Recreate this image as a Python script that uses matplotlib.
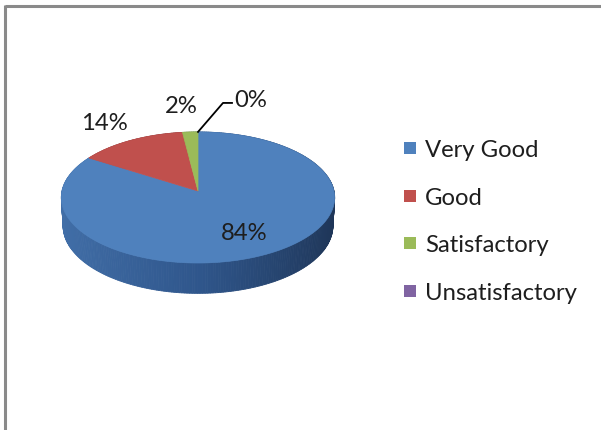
import numpy as np
import matplotlib
matplotlib.use('Agg')
import matplotlib.pyplot as plt
from matplotlib.patches import Polygon, Rectangle
from matplotlib.colors import to_rgb

categories = ['Very Good', 'Good', 'Satisfactory', 'Unsatisfactory']
values = [84, 14, 2, 0]
labels = ['84%', '14%', '2%', '0%']
colors = ['#4F81BD', '#C0504D', '#9BBB59', '#8064A2']

plt.rcParams['font.family'] = ['Lato', 'DejaVu Sans']
FS = 17.2
TXT = '#1e1e1e'

W, H = 601, 431
fig = plt.figure(figsize=(W / 100, H / 100), dpi=100)
ax = fig.add_axes([0, 0, 1, 1])
ax.set_xlim(0, W)
ax.set_ylim(H, 0)
ax.axis('off')

# frame (gray top and left border)
ax.plot([4.5, W], [7, 7], color='#8a8a8a', lw=2.2, solid_capstyle='butt')
ax.plot([5, 5], [6, H], color='#8a8a8a', lw=2.2, solid_capstyle='butt')

# perspective projection of a 3D pie
CX, CY, S = 198, 192, 136
ELEV = np.radians(28.5)
DIST = 8.9
DEPTH = 0.24


def proj(theta, r=1.0, down=0.0):
    X = r * np.sin(theta)
    Z = -r * np.cos(theta)
    yc = Z * np.sin(ELEV) + down * np.cos(ELEV)
    zc = DIST - Z * np.cos(ELEV) + down * np.sin(ELEV)
    f = DIST / zc
    return CX + S * X * f, CY + S * yc * f


total = float(sum(values))
bounds = np.concatenate([[0], np.cumsum(values)]) / total * 2 * np.pi


def side_color(base, X):
    b = np.array(to_rgb(base))
    left = b * np.array([0.83, 0.86, 0.89])
    mid = b * np.array([0.60, 0.67, 0.74])
    right = b * np.array([0.38, 0.41, 0.46])
    if X < 0:
        t = X + 1
        c = left * (1 - t) + mid * t
    else:
        t = X
        c = mid * (1 - t) + right * t
    return np.clip(c, 0, 1)


# side walls
strips = []
for i, v in enumerate(values):
    a0, a1 = bounds[i], bounds[i + 1]
    if a1 - a0 <= 0:
        continue
    n = max(2, int(np.degrees(a1 - a0)))
    ts = np.linspace(a0, a1, n + 1)
    for k in range(n):
        t0, t1 = ts[k], ts[k + 1]
        tm = 0.5 * (t0 + t1)
        zc = -np.cos(tm)
        pts = [proj(t0), proj(t1), proj(t1, down=DEPTH), proj(t0, down=DEPTH)]
        strips.append((zc, pts, side_color(colors[i], np.sin(tm))))
strips.sort(key=lambda s: s[0])
for zc, pts, c in strips:
    ax.add_patch(Polygon(pts, closed=True, facecolor=c, edgecolor=c, lw=0.6))

# top faces
for i, v in enumerate(values):
    a0, a1 = bounds[i], bounds[i + 1]
    if a1 - a0 <= 0:
        continue
    ts = np.linspace(a0, a1, max(3, int(np.degrees(a1 - a0) * 2)))
    pts = [proj(0, r=0)] + [proj(t) for t in ts]
    ax.add_patch(Polygon(pts, closed=True, facecolor=colors[i], edgecolor=colors[i], lw=0.5))

# data labels
label_r = [0.65, 1.45, 1.55, None]
label_dx = [1, 1, -5.5, 0]
for i, lab in enumerate(labels):
    mid = 0.5 * (bounds[i] + bounds[i + 1])
    if label_r[i] is None:
        # leader line for the zero slice
        x0, y0 = proj(bounds[i])
        x1, y1 = x0 + 25, y0 - 29
        ax.plot([x0, x1, x1 + 9], [y0, y1, y1], color='black', lw=1.3)
        ax.text(x1 + 11, y1 + 3, lab, fontsize=FS, color=TXT, ha='left', va='baseline')
        continue
    x, y = proj(mid, r=label_r[i])
    ax.text(x + label_dx[i], y + 8.5, lab, fontsize=FS, color=TXT, ha='center', va='baseline')

# legend
LX, LY0, LDY = 404, 157, 47.7
for i, cat in enumerate(categories):
    yb = LY0 + i * LDY
    ax.add_patch(Rectangle((LX, yb - 14), 12, 12, facecolor=colors[i], edgecolor='none'))
    ax.text(LX + 21, yb, cat, fontsize=FS, color=TXT, ha='left', va='baseline')

fig.savefig('out.png', dpi=100)
